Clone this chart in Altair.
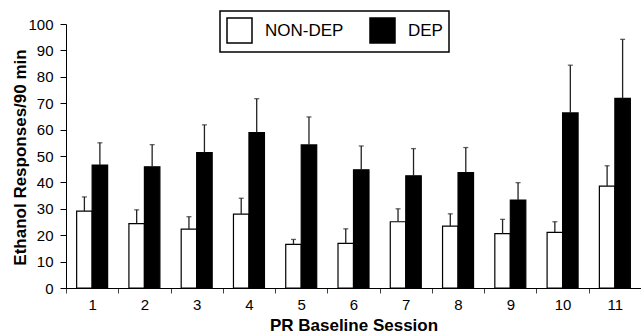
import altair as alt
import pandas as pd

sessions = [1, 2, 3, 4, 5, 6, 7, 8, 9, 10, 11]
groups = ["NON-DEP", "DEP"]
nondep_mean = [29.1, 24.4, 22.3, 28.0, 16.5, 16.9, 25.1, 23.4, 20.6, 21.1, 38.6]
nondep_sem = [5.4, 5.2, 4.7, 6.0, 1.9, 5.5, 4.9, 4.7, 5.4, 4.0, 7.7]
dep_mean = [46.6, 45.9, 51.3, 58.9, 54.2, 44.8, 42.5, 43.7, 33.3, 66.3, 71.8]
dep_sem = [8.4, 8.4, 10.5, 12.8, 10.6, 9.0, 10.3, 9.5, 6.6, 18.1, 22.4]

rows = []
for i, s in enumerate(sessions):
    rows.append({"session": s, "group": "NON-DEP", "mean": nondep_mean[i], "sem": nondep_sem[i]})
    rows.append({"session": s, "group": "DEP", "mean": dep_mean[i], "sem": dep_sem[i]})
df = pd.DataFrame(rows)
df["upper"] = df["mean"] + df["sem"]

FONT = "Liberation Sans, Arial, Helvetica, sans-serif"

x_axis = alt.Axis(
    title="PR Baseline Session",
    labelAngle=0,
    tickBand="extent",
    tickSize=5,
    tickColor="#444444",
    domainColor="black",
    labelPadding=16,
    labelBaseline="alphabetic",
    labelFontSize=15,
    labelFont=FONT,
    labelColor="black",
    labelOverlap=False,
    titleFont=FONT,
    titleFontSize=17,
    titleFontWeight="bold",
    titleColor="black",
    titleBaseline="alphabetic",
    titleY=42,
)
y_axis = alt.Axis(
    title="Ethanol Responses/90 min",
    values=list(range(0, 101, 10)),
    grid=False,
    tickSize=6,
    tickColor="black",
    domainColor="black",
    labelPadding=7,
    labelFontSize=15,
    labelFont=FONT,
    labelColor="black",
    labelOverlap=False,
    labelFlush=False,
    titleFont=FONT,
    titleFontSize=17,
    titleFontWeight="bold",
    titleColor="black",
    titleAngle=-90,
    titleAlign="center",
    titleBaseline="alphabetic",
    titleX=-41,
    titleY=133,
)

x_scale = alt.Scale(paddingInner=0, paddingOuter=0)
xoff_scale = alt.Scale(domain=groups, paddingInner=0, paddingOuter=0.687)
y_scale = alt.Scale(domain=[0, 100], nice=False, zero=True)


def x_enc():
    return alt.X("session:O", scale=x_scale, axis=x_axis)


def xoff_enc():
    return alt.XOffset("group:N", sort=groups, scale=xoff_scale)


bars = alt.Chart(df).mark_bar(stroke="black", strokeWidth=1.2).encode(
    x=x_enc(),
    xOffset=xoff_enc(),
    y=alt.Y("mean:Q", scale=y_scale, axis=y_axis),
    fill=alt.Fill(
        "group:N",
        sort=groups,
        scale=alt.Scale(domain=groups, range=["white", "black"]),
        legend=alt.Legend(
            title=None,
            orient="none",
            legendX=154,
            legendY=-13,
            direction="horizontal",
            symbolType="square",
            symbolSize=625,
            symbolStrokeColor="black",
            symbolStrokeWidth=1.5,
            symbolOpacity=1,
            labelFontSize=17,
            labelFont=FONT,
            labelColor="black",
            labelOffset=12,
            columnPadding=23,
            padding=6,
            strokeColor="black",
            fillColor="white",
        ),
    ),
)

err = alt.Chart(df).mark_rule(color="#222222", strokeWidth=1.3).encode(
    x=x_enc(),
    xOffset=xoff_enc(),
    y=alt.Y("mean:Q", scale=y_scale, axis=y_axis),
    y2="upper:Q",
)

caps = alt.Chart(df).mark_tick(color="#222222", thickness=1.3, size=5, orient="horizontal").encode(
    x=x_enc(),
    xOffset=xoff_enc(),
    y=alt.Y("upper:Q", scale=y_scale, axis=y_axis),
)

chart = (
    alt.layer(bars, err, caps)
    .properties(
        width=575,
        height=264,
        padding={"left": 66, "top": 24, "right": 0, "bottom": 46},
        autosize=alt.AutoSizeParams(type="none"),
        background="white",
    )
    .configure_view(stroke=None)
    .configure_legend(strokeWidth=1.5)
)

chart.save("out.html", embed_options={"renderer": "svg", "actions": False})
